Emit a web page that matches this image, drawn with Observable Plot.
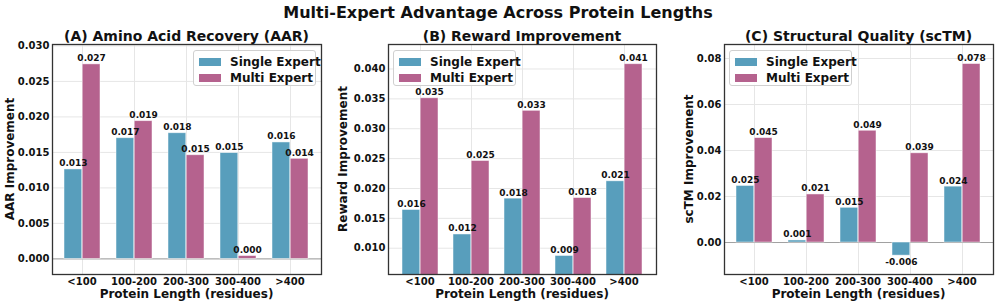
<!DOCTYPE html>
<html>
<head>
<meta charset="utf-8">
<script src="https://cdn.jsdelivr.net/npm/d3@7"></script>
<script src="https://cdn.jsdelivr.net/npm/@observablehq/plot@0.6"></script>
<style>
  body { margin: 0; background: #fff; }
  #root { position: relative; width: 997px; height: 305px; overflow: hidden; font-family: "DejaVu Sans", sans-serif; font-weight: bold; color: #111; }
  .abs { position: absolute; white-space: nowrap; }
  .title { font-size: 16px; }
  .sub { font-size: 14px; transform: translate(-50%, -50%); }
  .xlab { font-size: 12px; transform: translate(-50%, -50%); }
  .xt { font-size: 10px; line-height: 12px; transform: translate(-50%, 0); }
  .ylab { font-size: 12px; transform: translate(-50%, -50%) rotate(-90deg); }
  .legend { border: 1px solid #d0d0d0; border-radius: 3px; background: rgba(255,255,255,0.85); font-size: 12px; box-sizing: border-box; padding: 3px 5px; }
  .legend .row { display: flex; align-items: center; height: 16px; }
  .legend .sw { width: 22px; height: 8px; margin-right: 9px; flex: none; }
</style>
</head>
<body>
<div id="root"></div>
<script>
// ---- data ----
const categories = ["<100", "100-200", "200-300", "300-400", ">400"];
const seriesNames = ["Single Expert", "Multi Expert"];
const aarSingle = [0.0126, 0.0170, 0.0177, 0.0149, 0.0164];
const aarMulti = [0.0274, 0.0194, 0.0146, 0.0004, 0.0141];
const rewardSingle = [0.0164, 0.0123, 0.0183, 0.0087, 0.0212];
const rewardMulti = [0.0351, 0.0246, 0.0330, 0.0184, 0.0408];
const sctmSingle = [0.0246, 0.0009, 0.0151, -0.0057, 0.0243];
const sctmMulti = [0.0454, 0.0209, 0.0486, 0.0388, 0.0776];
const aarTicks = [0, 0.005, 0.010, 0.015, 0.020, 0.025, 0.030];
const rewardTicks = [0.010, 0.015, 0.020, 0.025, 0.030, 0.035, 0.040];
const sctmTicks = [0, 0.02, 0.04, 0.06, 0.08];

const colSingle = "#589EBC";
const colMulti = "#B5628E";

const root = document.getElementById("root");
function addDiv(cls, text, left, top, extra) {
  const d = document.createElement("div");
  d.className = "abs " + cls;
  d.textContent = text;
  d.style.left = left + "px";
  d.style.top = top + "px";
  if (extra) Object.assign(d.style, extra);
  root.appendChild(d);
  return d;
}

function panel(o) {
  const rows = categories.map((c, i) => ({cat: c, single: o.single[i], multi: o.multi[i]}));
  const mt = 44, mb = 31, H = 305;
  const inner = o.width - o.ml - o.mr;
  const pI = 0.3, pO = 0.235;
  const step = inner / (categories.length - pI + 2 * pO);
  const bw = step * (1 - pI);
  const half = bw / 2, q = bw / 4;
  const lab = v => v.toFixed(3);
  const marks = [
    Plot.gridY(o.ticks, {stroke: "#e6e6e6", strokeOpacity: 1}),
    Plot.ruleX(categories, {x: d => d, stroke: "#e6e6e6", strokeOpacity: 1}),
  ];
  if (o.zero) marks.push(Plot.ruleY([0], {stroke: "#a0a0a0", strokeWidth: 1}));
  marks.push(
    Plot.barY(rows, {x: "cat", y: "single", fill: colSingle, insetRight: half, stroke: "white", strokeOpacity: 0.6, strokeWidth: 0.8, clip: true}),
    Plot.barY(rows, {x: "cat", y: "multi", fill: colMulti, insetLeft: half, stroke: "white", strokeOpacity: 0.6, strokeWidth: 0.8, clip: true}),
    Plot.text(rows.filter(d => d.single >= 0), {x: "cat", y: "single", text: d => lab(d.single), dx: -q, dy: -3, lineAnchor: "bottom", fontSize: 9, fontWeight: "bold", fill: "#111"}),
    Plot.text(rows.filter(d => d.single < 0), {x: "cat", y: "single", text: d => lab(d.single), dx: -q, dy: 3, lineAnchor: "top", fontSize: 9, fontWeight: "bold", fill: "#111"}),
    Plot.text(rows, {x: "cat", y: "multi", text: d => lab(d.multi), dx: q, dy: -3, lineAnchor: "bottom", fontSize: 9, fontWeight: "bold", fill: "#111"}),
    Plot.axisY(o.ticks, {tickSize: 0, tickPadding: 3, tickFormat: o.fmt, label: null, fontSize: 10, fontWeight: "bold"}),
    Plot.frame({stroke: "#333", strokeWidth: 1.3})
  );
  const svg = Plot.plot({
    width: o.width, height: H,
    marginLeft: o.ml, marginRight: o.mr, marginTop: mt, marginBottom: mb,
    style: {fontFamily: "DejaVu Sans", fontWeight: "bold", fontSize: "10px", color: "#111", background: "transparent", overflow: "visible"},
    x: {type: "band", domain: categories, paddingInner: pI, paddingOuter: pO, align: 0.5, label: null, axis: null},
    y: {domain: o.domain, label: null},
    marks
  });
  const wrap = document.createElement("div");
  wrap.className = "abs";
  wrap.style.left = o.left + "px";
  wrap.style.top = "0px";
  wrap.appendChild(svg);
  root.appendChild(wrap);
  // x tick labels placed from the plot's own x scale
  const xs = svg.scale("x");
  categories.forEach(c => addDiv("xt", c, o.left + xs.apply(c) + xs.bandwidth / 2, H - mb + 2));
  const cx = o.left + o.ml + inner / 2;
  addDiv("sub", o.title, cx, 36);
  addDiv("xlab", "Protein Length (residues)", cx, 294);
  addDiv("ylab", o.ylabel, o.ylx, (mt + H - mb) / 2);
  // legend
  const lg = document.createElement("div");
  lg.className = "abs legend";
  lg.style.left = o.legX + "px";
  lg.style.top = "50px";
  lg.style.width = "123px";
  lg.style.height = "36px";
  [[seriesNames[0], colSingle], [seriesNames[1], colMulti]].forEach(([n, c]) => {
    const r = document.createElement("div");
    r.className = "row";
    const sw = document.createElement("span");
    sw.className = "sw";
    sw.style.background = c;
    const t = document.createElement("span");
    t.textContent = n;
    r.appendChild(sw); r.appendChild(t);
    lg.appendChild(r);
  });
  root.appendChild(lg);
}

addDiv("title", "Multi-Expert Advantage Across Protein Lengths", 498, 12, {transform: "translate(-50%, -50%)"});

panel({left: 0, width: 330, ml: 52, mr: 9, single: aarSingle, multi: aarMulti,
  domain: [-0.0022, 0.0302], ticks: aarTicks, fmt: d3.format(".3f"), zero: true,
  title: "(A) Amino Acid Recovery (AAR)", ylabel: "AAR Improvement", ylx: 10, legX: 193});
panel({left: 330, width: 330, ml: 58, mr: 4, single: rewardSingle, multi: rewardMulti,
  domain: [0.0056, 0.0441], ticks: rewardTicks, fmt: d3.format(".3f"), zero: false,
  title: "(B) Reward Improvement", ylabel: "Reward Improvement", ylx: 343, legX: 393});
panel({left: 660, width: 337, ml: 64, mr: 4, single: sctmSingle, multi: sctmMulti,
  domain: [-0.0139, 0.0861], ticks: sctmTicks, fmt: d3.format(".2f"), zero: true,
  title: "(C) Structural Quality (scTM)", ylabel: "scTM Improvement", ylx: 689, legX: 729});
</script>
</body>
</html>
